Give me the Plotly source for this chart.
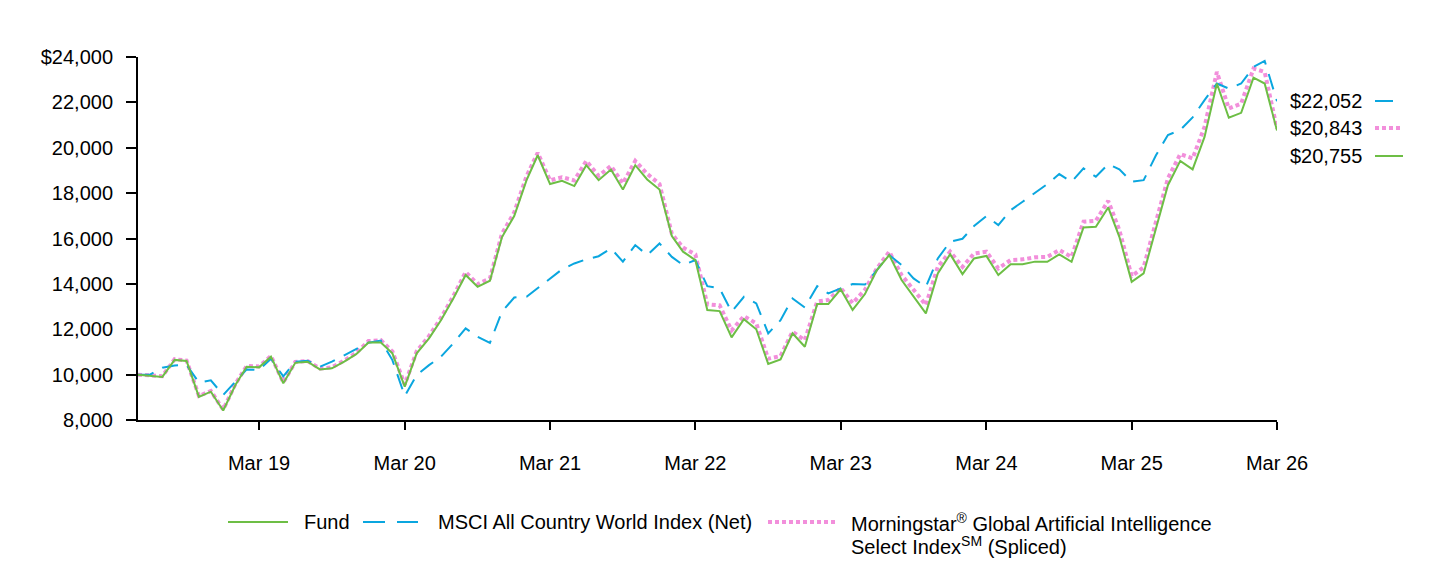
import pandas as pd
import plotly.graph_objects as go

# ---------------- data ----------------
start_month = "2018-05-01"
n_points = 95
dates = (pd.date_range(start=start_month, periods=n_points, freq="MS") + pd.offsets.MonthEnd(0)).strftime("%Y-%m-%d").tolist()

fund = [10000, 9950, 9900, 10650, 10600, 9020, 9250, 8420, 9550, 10350,
        10320, 10790, 9615, 10520, 10570, 10230, 10280, 10570, 10900, 11420,
        11420, 10940, 9470, 10940, 11600, 12400, 13360, 14390, 13870, 14140,
        16050, 16990, 18570, 19670, 18400, 18540, 18310, 19230, 18570, 19040,
        18160, 19230, 18600, 18160, 16110, 15420, 15050, 12850, 12800, 11640,
        12440, 12000, 10470, 10670, 11820, 11230, 13110, 13110, 13760, 12850,
        13550, 14610, 15270, 14170, 13430, 12700, 14460, 15310, 14430, 15120,
        15230, 14390, 14870, 14870, 14980, 14975, 15300, 14975, 16490, 16520,
        17370, 16075, 14090, 14460, 16445, 18350, 19420, 19045, 20480, 22830,
        21320, 21540, 23090, 22830, 20755]

msci = [10000, 10000, 10300, 10400, 10430, 9650, 9750, 9100, 9700, 10230,
        10200, 10700, 9920, 10570, 10610, 10350, 10570, 10860, 11110, 11410,
        11500, 10640, 9060, 9980, 10420, 10790, 11380, 12040, 11670, 11400,
        12770, 13400, 13430, 13800, 14240, 14640, 14900, 15080, 15220, 15560,
        14980, 15710, 15270, 15780, 15190, 14830, 15050, 13900, 13800, 12770,
        13430, 13140, 11820, 12400, 13360, 12960, 13900, 13580, 13800, 13990,
        13970, 14600, 15270, 14830, 14240, 13870, 15120, 15860, 15990, 16550,
        16990, 16590, 17250, 17620, 17990, 18400, 18840, 18500, 19090, 18720,
        19280, 19050, 18500, 18570, 19670, 20560, 20780, 21340, 22100, 22830,
        22610, 22830, 23560, 23830, 22052]

morningstar = [10000, 9980, 9930, 10680, 10620, 9060, 9280, 8460, 9600, 10380,
               10360, 10820, 9660, 10560, 10600, 10270, 10320, 10620, 10960, 11480,
               11520, 11020, 9560, 11030, 11700, 12500, 13460, 14520, 13990, 14240,
               16200, 17150, 18750, 19780, 18560, 18700, 18560, 19420, 18760, 19200,
               18430, 19420, 18850, 18400, 16200, 15600, 15300, 13100, 13050, 11950,
               12580, 12260, 10700, 10820, 11890, 11520, 13220, 13290, 13820, 13150,
               13740, 14680, 15420, 14390, 13730, 13070, 14750, 15420, 14750, 15340,
               15420, 14680, 15050, 15080, 15170, 15190, 15490, 15190, 16740, 16780,
               17660, 16370, 14340, 14730, 16740, 18650, 19720, 19530, 20920, 23340,
               21730, 21950, 23490, 23340, 20843]

x_tick_dates = ["2019-03-31", "2020-03-31", "2021-03-31", "2022-03-31",
                "2023-03-31", "2024-03-31", "2025-03-31", "2026-03-31"]
x_tick_labels = ["Mar 19", "Mar 20", "Mar 21", "Mar 22", "Mar 23", "Mar 24", "Mar 25", "Mar 26"]
y_tick_vals = [8000, 10000, 12000, 14000, 16000, 18000, 20000, 22000, 24000]
y_tick_labels = ["8,000", "10,000", "12,000", "14,000", "16,000", "18,000", "20,000", "22,000", "$24,000"]

series_names = ["Fund", "MSCI All Country World Index (Net)",
                "Morningstar<sup>®</sup> Global Artificial Intelligence",
                "Select Index<sup>SM</sup> (Spliced)"]
end_labels = ["$22,052", "$20,843", "$20,755"]

# ---------------- style ----------------
GREEN = "#6DBE45"
BLUE = "#0AA6DF"
PINK = "#F28FDB"
FONT = "Liberation Sans, Arial, sans-serif"
FS = 20

W, H = 1440, 564
L, R, T, B = 138, 1277, 57, 420  # plot area pixel box


def px2x(px):
    return (px - L) / (R - L)


def px2y(py):
    return (B - py) / (B - T)


def txt(px, py, text, anchor="left"):
    return dict(xref="paper", yref="paper", x=px2x(px), y=px2y(py), text=text,
                showarrow=False, xanchor=anchor, yanchor="middle",
                font=dict(size=FS, color="#000", family=FONT))


fig = go.Figure()
fig.add_trace(go.Scatter(x=dates, y=morningstar, mode="lines", name="Morningstar Global Artificial Intelligence Select Index (Spliced)",
                         line=dict(color=PINK, width=4, dash="4px,3px"), showlegend=False))
fig.add_trace(go.Scatter(x=dates, y=msci, mode="lines", name=series_names[1],
                         line=dict(color=BLUE, width=2, dash="16px,10px"), showlegend=False))
fig.add_trace(go.Scatter(x=dates, y=fund, mode="lines", name=series_names[0],
                         line=dict(color=GREEN, width=2), showlegend=False))

shapes = []
annotations = []

# manual legend
leg_y = 522
shapes.append(dict(type="line", xref="paper", yref="paper", x0=px2x(228), x1=px2x(288),
                   y0=px2y(leg_y), y1=px2y(leg_y), line=dict(color=GREEN, width=2)))
annotations.append(txt(302, leg_y, series_names[0]))
shapes.append(dict(type="line", xref="paper", yref="paper", x0=px2x(363), x1=px2x(418),
                   y0=px2y(leg_y), y1=px2y(leg_y), line=dict(color=BLUE, width=2, dash="22px,12px")))
annotations.append(txt(436, leg_y, series_names[1]))
shapes.append(dict(type="line", xref="paper", yref="paper", x0=px2x(768), x1=px2x(836),
                   y0=px2y(leg_y), y1=px2y(leg_y), line=dict(color=PINK, width=4, dash="4px,3px")))
annotations.append(txt(849, leg_y, series_names[2]))
annotations.append(txt(849, leg_y + 23, series_names[3]))

# end-value labels on the right
end_rows = [(101, BLUE, 2, None, 1393, end_labels[0]),
            (128, PINK, 4, "4px,3px", 1401, end_labels[1]),
            (156, GREEN, 2, None, 1403, end_labels[2])]
for py, col, wd, dsh, xend, label in end_rows:
    annotations.append(txt(1288, py, label))
    ln = dict(color=col, width=wd)
    if dsh:
        ln["dash"] = dsh
    shapes.append(dict(type="line", xref="paper", yref="paper", x0=px2x(1375), x1=px2x(xend),
                       y0=px2y(py), y1=px2y(py), line=ln))

fig.update_layout(
    width=W, height=H,
    margin=dict(l=L, r=W - R, t=T, b=H - B, pad=0),
    paper_bgcolor="white", plot_bgcolor="white",
    font=dict(family=FONT, size=FS, color="#000"),
    shapes=shapes, annotations=annotations,
    showlegend=False,
)
fig.update_xaxes(
    type="date", range=[dates[0], dates[-1]],
    tickvals=x_tick_dates, ticktext=x_tick_labels,
    showgrid=False, zeroline=False,
    showline=True, linecolor="#000", linewidth=2,
    ticks="outside", ticklen=8, tickwidth=2, tickcolor="#000",
    ticklabelstandoff=16,
    tickfont=dict(size=FS, color="#000", family=FONT),
)
fig.update_yaxes(
    range=[8000, 24000],
    tickvals=y_tick_vals, ticktext=y_tick_labels,
    showgrid=False, zeroline=False,
    showline=True, linecolor="#000", linewidth=2,
    ticks="outside", ticklen=10, tickwidth=2, tickcolor="#000",
    ticklabelstandoff=9,
    tickfont=dict(size=FS, color="#000", family=FONT),
)

fig.write_html("out.html")
